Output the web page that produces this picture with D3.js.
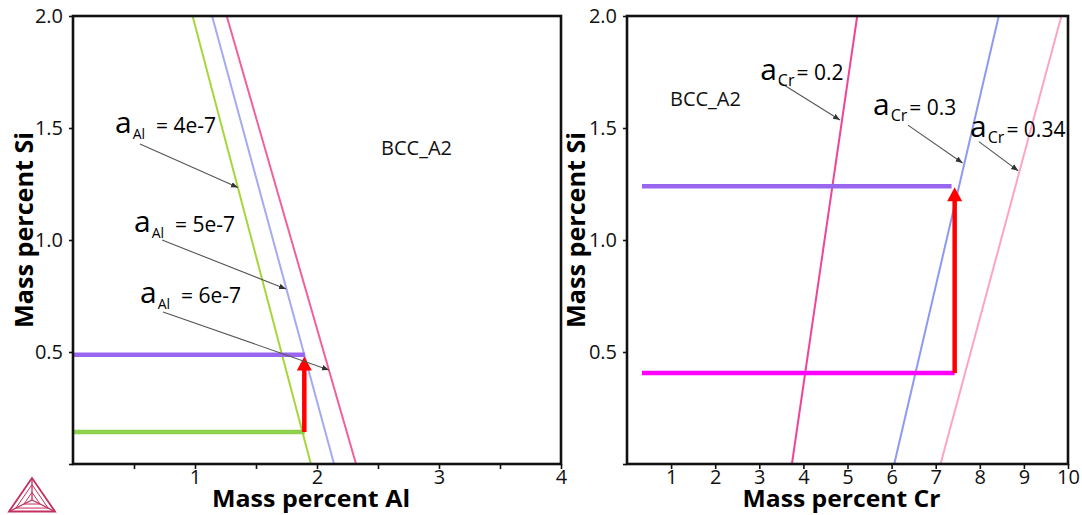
<!DOCTYPE html>
<html>
<head>
<meta charset="utf-8">
<script src="https://cdn.jsdelivr.net/npm/d3@7"></script>
<style>
  html, body { margin: 0; padding: 0; background: #fff; }
  svg { display: block; }
  text { font-family: "Open Sans", "Noto Sans", sans-serif; }
</style>
</head>
<body>
<svg id="chart" width="1082" height="515"></svg>
<script>
// ---------------- DATA ----------------
// Left panel: Mass percent Al (x) vs Mass percent Si (y)
const alLineGreen = [[0.98, 2.0], [1.95, 0.0]];    // a_Al = 4e-7
const alLineBlue  = [[1.14, 2.0], [2.14, 0.0]];    // a_Al = 5e-7
const alLinePink  = [[1.26, 2.0], [2.32, 0.0]];    // a_Al = 6e-7
const alPurpleLevel = [[0.0, 0.488], [1.90, 0.488]];
const alGreenLevel  = [[0.0, 0.143], [1.90, 0.143]];
const alRedArrow    = [[1.896, 0.143], [1.896, 0.48]];

// Right panel: Mass percent Cr (x) vs Mass percent Si (y)
const crLine02  = [[3.74, 0.0], [5.22, 2.0]];      // a_Cr = 0.2
const crLine03  = [[6.06, 0.0], [8.43, 2.0]];      // a_Cr = 0.3
const crLine034 = [[7.11, 0.0], [9.85, 2.0]];      // a_Cr = 0.34
const crPurpleLevel  = [[0.34, 1.24], [7.36, 1.24]];
const crMagentaLevel = [[0.34, 0.406], [7.43, 0.406]];
const crRedArrow     = [[7.43, 0.406], [7.43, 1.236]];

// Tick labels
const leftXTicks  = [0.5, 1, 1.5, 2, 2.5, 3, 3.5, 4];
const leftXLabels = [1, 2, 3, 4];
const yTicks      = [0, 0.5, 1.0, 1.5, 2.0];
const yLabels     = [0.5, 1.0, 1.5, 2.0];
const rightXTicks = [1, 2, 3, 4, 5, 6, 7, 8, 9, 10];

// Annotations (text content + anchor in data units)
const leftNotes = [
  { sub: "Al", rest: "= 4e-7", at: [0.344, 1.478], from: [0.549, 1.429], to: [1.352, 1.234] },
  { sub: "Al", rest: "= 5e-7", at: [0.50, 1.036],  from: [0.73, 1.00],   to: [1.746, 0.781] },
  { sub: "Al", rest: "= 6e-7", at: [0.549, 0.719], from: [0.738, 0.679], to: [2.098, 0.42] }
];
const rightNotes = [
  { sub: "Cr", rest: "= 0.2",  at: [3.02, 1.714], from: [3.45, 1.705], to: [4.83, 1.536] },
  { sub: "Cr", rest: "= 0.3",  at: [5.58, 1.558], from: [6.37, 1.513], to: [7.61, 1.344] },
  { sub: "Cr", rest: "= 0.34", at: [7.78, 1.46],  from: [7.98, 1.439], to: [8.87, 1.309] }
];
const phaseLabel = "BCC_A2";
const leftPhaseAt = [2.525, 1.379];
const rightPhaseAt = [0.975, 1.598];

// ---------------- DRAW ----------------
const svg = d3.select("#chart");
const defs = svg.append("defs");
defs.append("marker").attr("id", "thinArrow")
  .attr("viewBox", "0 0 10 10").attr("refX", 10).attr("refY", 5)
  .attr("markerWidth", 7).attr("markerHeight", 7).attr("markerUnits", "userSpaceOnUse")
  .attr("orient", "auto")
  .append("path").attr("d", "M0,1 L10,5 L0,9 Z").attr("fill", "#333");

const xL = d3.scaleLinear().domain([0, 4]).range([73, 561]);
const xR = d3.scaleLinear().domain([0, 10]).range([627, 1068]);
const yS = d3.scaleLinear().domain([0, 2]).range([464, 16]);

function panel(x, xTicks, xFmt, xTitle, yTitleX) {
  const g = svg.append("g");
  const [x0, x1] = x.range();
  const [y0, y1] = yS.range();
  // x axis
  const ax = g.append("g").attr("transform", `translate(0,${y0})`)
    .call(d3.axisBottom(x).tickValues(xTicks).tickSize(5).tickPadding(1).tickFormat(xFmt));
  ax.select(".domain").remove();
  ax.selectAll("line").attr("stroke", "#111").attr("stroke-width", 1.6);
  ax.selectAll("text").attr("font-size", 20).attr("fill", "#111");
  // y axis
  const ay = g.append("g").attr("transform", `translate(${x0},0)`)
    .call(d3.axisLeft(yS).tickValues(yTicks).tickSize(4).tickPadding(6)
      .tickFormat(d => yLabels.includes(d) ? d3.format(".1f")(d) : ""));
  ay.select(".domain").remove();
  ay.selectAll("line").attr("stroke", "#111").attr("stroke-width", 1.6);
  ay.selectAll("text").attr("font-size", 20).attr("fill", "#111");
  // titles
  g.append("text").attr("x", (x0 + x1) / 2 - 6).attr("y", 507)
    .attr("text-anchor", "middle").attr("font-weight", "bold").attr("font-size", 24)
    .attr("textLength", 198).attr("lengthAdjust", "spacingAndGlyphs")
    .attr("fill", "#000").text(xTitle);
  g.append("text")
    .attr("transform", `translate(${yTitleX},230) rotate(-90)`)
    .attr("text-anchor", "middle").attr("font-weight", "bold").attr("font-size", 25)
    .attr("textLength", 196).attr("lengthAdjust", "spacingAndGlyphs")
    .attr("fill", "#000").text("Mass percent Si");
  return g;
}

const gL = panel(xL, leftXTicks, d => leftXLabels.includes(d) ? String(d) : "", "Mass percent Al", 33);
const gR = panel(xR, rightXTicks, d => String(d), "Mass percent Cr", 585);

function drawLine(g, x, data, color, w) {
  const line = d3.line().x(d => x(d[0])).y(d => yS(d[1]));
  g.append("path").attr("d", line(data)).attr("fill", "none")
    .attr("stroke", color).attr("stroke-width", w);
}
function redArrow(g, x, data) {
  const xp = x(data[0][0]);
  const yb = yS(data[0][1]);
  const yt = yS(data[1][1]);
  g.append("line").attr("x1", xp).attr("x2", xp).attr("y1", yb).attr("y2", yt + 12)
    .attr("stroke", "#ff0000").attr("stroke-width", 4.5);
  g.append("path").attr("d", `M${xp - 7.5},${yt + 14} L${xp},${yt} L${xp + 7.5},${yt + 14} Z`)
    .attr("fill", "#ff0000");
}
function notes(g, x, arr, bigSize, subSize, restSize, gap) {
  arr.forEach(n => {
    g.append("line")
      .attr("x1", x(n.from[0])).attr("y1", yS(n.from[1]))
      .attr("x2", x(n.to[0])).attr("y2", yS(n.to[1]))
      .attr("stroke", "#555").attr("stroke-width", 1.1)
      .attr("marker-end", "url(#thinArrow)");
    const t = g.append("text").attr("x", x(n.at[0])).attr("y", yS(n.at[1])).attr("fill", "#000");
    t.append("tspan").attr("font-size", bigSize).text("a");
    t.append("tspan").attr("font-size", subSize).attr("dy", 6).attr("dx", 1).text(n.sub);
    t.append("tspan").attr("font-size", restSize).attr("dy", -6).attr("dx", gap).text(n.rest);
  });
}

// Left panel marks
drawLine(gL, xL, alLineGreen, "#a6d63a", 2);
drawLine(gL, xL, alLineBlue, "#a3aaf2", 2);
drawLine(gL, xL, alLinePink, "#f2609c", 2);
drawLine(gL, xL, alPurpleLevel, "#9966f0", 4.5);
drawLine(gL, xL, alGreenLevel, "#8ed04c", 4.5);
redArrow(gL, xL, alRedArrow);
notes(gL, xL, leftNotes, 30, 14, 21, 11);
gL.append("text").attr("x", xL(leftPhaseAt[0])).attr("y", yS(leftPhaseAt[1]))
  .attr("font-size", 20).attr("fill", "#111").text(phaseLabel);

// Right panel marks
drawLine(gR, xR, crLine02, "#ee4499", 2);
drawLine(gR, xR, crLine03, "#8d9af0", 2);
drawLine(gR, xR, crLine034, "#ffa3c4", 2);
drawLine(gR, xR, crPurpleLevel, "#9966f0", 4.5);
drawLine(gR, xR, crMagentaLevel, "#ff00ff", 4.5);
redArrow(gR, xR, crRedArrow);
notes(gR, xR, rightNotes, 30, 16, 21, 2);
gR.append("text").attr("x", xR(rightPhaseAt[0])).attr("y", yS(rightPhaseAt[1]))
  .attr("font-size", 20).attr("fill", "#111").text(phaseLabel);

// Frames
[[xL, gL], [xR, gR]].forEach(([x, g]) => {
  const [x0, x1] = x.range();
  const [y0, y1] = yS.range();
  g.append("rect").attr("x", x0).attr("y", y1).attr("width", x1 - x0).attr("height", y0 - y1)
    .attr("fill", "none").attr("stroke", "#111").attr("stroke-width", 2.6);
});

// Logo (tetrahedron mark)
const logo = svg.append("g").attr("stroke", "#c2305e").attr("fill", "none").attr("stroke-width", 1.3);
const A = [32, 478], B = [9, 511.5], C = [55, 511.5], O = [32, 500];
const lerp = (p, q, t) => [p[0] + (q[0] - p[0]) * t, p[1] + (q[1] - p[1]) * t];
logo.append("path").attr("d", `M${A}L${B}L${C}Z`).attr("stroke-width", 1.8);
[A, B, C].forEach(v => logo.append("path").attr("d", `M${O}L${v}`));
[0.35, 0.7].forEach(t => {
  const a = lerp(O, A, t), b = lerp(O, B, t), c = lerp(O, C, t);
  logo.append("path").attr("d", `M${a}L${b}L${c}Z`).attr("stroke-width", 1);
});
</script>
</body>
</html>
